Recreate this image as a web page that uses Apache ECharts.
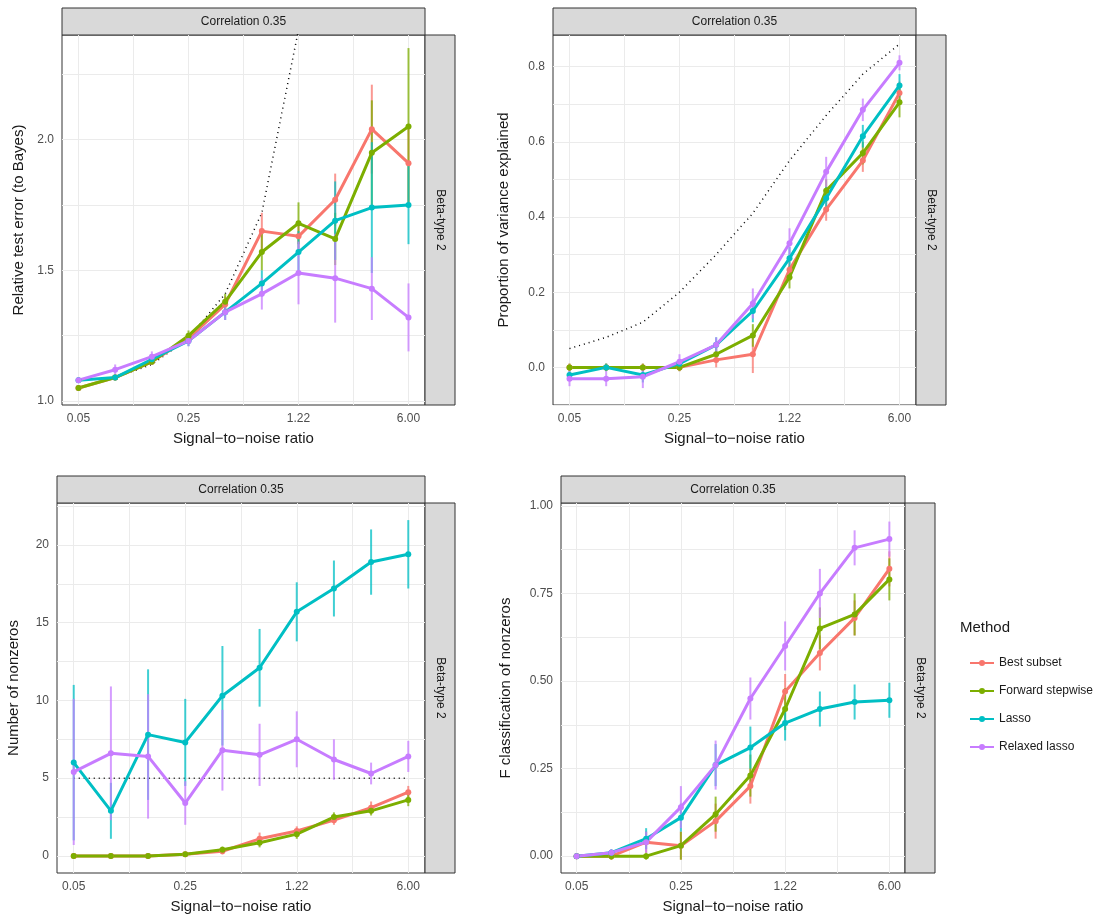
<!DOCTYPE html>
<html><head><meta charset="utf-8">
<script src="https://cdn.jsdelivr.net/npm/echarts@6/dist/echarts.min.js"></script>
<style>html,body{margin:0;background:#fff}#c{width:1111px;height:917px}</style>
</head><body><div id="c"></div>
<script>
var snrLabels = ['0.05','0.09','0.14','0.25','0.42','0.71','1.22','2.07','3.52','6.00'];
var methods = ['Best subset','Forward stepwise','Lasso','Relaxed lasso'];
var colors = ['#F8766D','#7CAE00','#00BFC4','#C77CFF'];

// panel 1: relative test error
var rteBest = [1.05,1.09,1.15,1.24,1.37,1.65,1.63,1.77,2.04,1.91];
var rteFwd = [1.05,1.09,1.15,1.25,1.38,1.57,1.68,1.62,1.95,2.05];
var rteLasso = [1.08,1.09,1.16,1.23,1.34,1.45,1.57,1.69,1.74,1.75];
var rteRelax = [1.08,1.12,1.17,1.23,1.34,1.41,1.49,1.47,1.43,1.32];
var rteBestErr = [0.01,0.01,0.01,0.02,0.03,0.07,0.05,0.1,0.17,0.15];
var rteFwdErr = [0.01,0.01,0.01,0.02,0.03,0.07,0.08,0.1,0.2,0.3];
var rteLassoErr = [0.01,0.01,0.02,0.02,0.03,0.05,0.08,0.15,0.25,0.15];
var rteRelaxErr = [0.01,0.02,0.02,0.02,0.03,0.06,0.12,0.17,0.12,0.13];
var rteBayes = [1.05,1.09,1.14,1.24,1.41,1.72,2.42,3.5,5.3,8.5];

// panel 2: proportion of variance explained
var pveBest = [0.0,0.0,0.0,0.0,0.02,0.035,0.26,0.42,0.55,0.73];
var pveFwd = [0.0,0.0,0.0,0.0,0.035,0.085,0.24,0.47,0.57,0.705];
var pveLasso = [-0.02,0.0,-0.02,0.01,0.06,0.15,0.29,0.45,0.615,0.75];
var pveRelax = [-0.03,-0.03,-0.025,0.015,0.06,0.17,0.33,0.52,0.685,0.81];
var pveBestErr = [0.01,0.01,0.01,0.01,0.02,0.05,0.03,0.03,0.03,0.03];
var pveFwdErr = [0.01,0.01,0.01,0.01,0.02,0.03,0.03,0.03,0.03,0.04];
var pveLassoErr = [0.01,0.01,0.02,0.01,0.02,0.03,0.03,0.03,0.03,0.03];
var pveRelaxErr = [0.02,0.02,0.03,0.02,0.02,0.04,0.04,0.04,0.03,0.02];
var pveBayes = [0.05,0.08,0.12,0.2,0.30,0.41,0.55,0.67,0.78,0.86];

// panel 3: number of nonzeros
var nnzBest = [0,0,0,0.1,0.3,1.1,1.6,2.3,3.1,4.1];
var nnzFwd = [0,0,0,0.1,0.4,0.85,1.4,2.5,2.9,3.6];
var nnzLasso = [6.0,2.9,7.8,7.3,10.3,12.1,15.7,17.2,18.9,19.4];
var nnzRelax = [5.4,6.6,6.4,3.4,6.8,6.5,7.5,6.2,5.3,6.4];
var nnzBestErr = [0.05,0.05,0.05,0.1,0.2,0.4,0.3,0.3,0.4,0.4];
var nnzFwdErr = [0.05,0.05,0.05,0.1,0.2,0.3,0.3,0.3,0.3,0.4];
var nnzLassoErr = [5,1.8,4.2,2.8,3.2,2.5,1.9,1.8,2.1,2.2];
var nnzRelaxErr = [4.7,4.3,4,1.4,2.6,2,1.8,1.3,0.7,1];
var nnzTrue = [5,5,5,5,5,5,5,5,5,5];

// panel 4: F classification of nonzeros
var fBest = [0,0,0.04,0.03,0.1,0.2,0.47,0.58,0.68,0.82];
var fFwd = [0,0,0,0.03,0.12,0.23,0.42,0.65,0.69,0.79];
var fLasso = [0,0.01,0.05,0.11,0.26,0.31,0.38,0.42,0.44,0.445];
var fRelax = [0,0.01,0.04,0.14,0.26,0.45,0.60,0.75,0.88,0.905];
var fBestErr = [0.005,0.01,0.03,0.04,0.05,0.05,0.05,0.05,0.05,0.05];
var fFwdErr = [0.005,0.01,0.01,0.04,0.05,0.06,0.06,0.06,0.06,0.06];
var fLassoErr = [0.005,0.01,0.03,0.04,0.06,0.06,0.05,0.05,0.05,0.05];
var fRelaxErr = [0.005,0.01,0.03,0.06,0.07,0.06,0.07,0.07,0.05,0.05];

var panels = [
  {name:'Relative test error (to Bayes)', ys:[rteBest,rteFwd,rteLasso,rteRelax], es:[rteBestErr,rteFwdErr,rteLassoErr,rteRelaxErr], ref:rteBayes,
   min:0.985, max:2.40, major:[1.0,1.5,2.0], minor:[1.25,1.75,2.25], fmt:function(v){return v.toFixed(1);},
   box:{left:62,top:35,width:363,height:370}},
  {name:'Proportion of variance explained', ys:[pveBest,pveFwd,pveLasso,pveRelax], es:[pveBestErr,pveFwdErr,pveLassoErr,pveRelaxErr], ref:pveBayes,
   min:-0.1, max:0.884, major:[0,0.2,0.4,0.6,0.8], minor:[-0.1,0.1,0.3,0.5,0.7], fmt:function(v){return v.toFixed(1);},
   box:{left:553,top:35,width:363,height:370}},
  {name:'Number of nonzeros', ys:[nnzBest,nnzFwd,nnzLasso,nnzRelax], es:[nnzBestErr,nnzFwdErr,nnzLassoErr,nnzRelaxErr], ref:nnzTrue,
   min:-1.1, max:22.7, major:[0,5,10,15,20], minor:[2.5,7.5,12.5,17.5,22.5], fmt:function(v){return String(v);},
   box:{left:57,top:503,width:368,height:370}},
  {name:'F classification of nonzeros', ys:[fBest,fFwd,fLasso,fRelax], es:[fBestErr,fFwdErr,fLassoErr,fRelaxErr], ref:null,
   min:-0.048, max:1.008, major:[0,0.25,0.5,0.75,1.0], minor:[0.125,0.375,0.625,0.875], fmt:function(v){return v.toFixed(2);},
   box:{left:561,top:503,width:344,height:370}}
];

var xMajor = [0,3,6,9], xMinor = [1.5,4.5,7.5];
var grids = [], xAxes = [], yAxes = [], series = [], graphics = [];
var txt = '#1a1a1a';

panels.forEach(function (p, k) {
  grids.push({left:p.box.left, top:p.box.top, width:p.box.width, height:p.box.height,
    show:true, borderColor:'#333', borderWidth:1, backgroundColor:'#fff'});
  xAxes.push({gridIndex:k, type:'value', min:-0.45, max:9.45,
    name:'Signal\u2212to\u2212noise ratio', nameLocation:'middle', nameGap:26,
    nameTextStyle:{fontSize:15, color:txt, fontFamily:'Liberation Sans'},
    axisLine:{show:false},
    axisTick:{show:false, customValues:xMajor.concat(xMinor).sort()},
    axisLabel:{customValues:xMajor, color:'#4d4d4d', fontSize:12, margin:8, formatter:function(v){return snrLabels[Math.round(v)];}},
    splitLine:{show:true, lineStyle:{color:'#ebebeb', width:1}}});
  yAxes.push({gridIndex:k, type:'value', min:p.min, max:p.max,
    name:p.name, nameLocation:'middle', nameGap:k==3?48:(k==1?42:36), nameRotate:90,
    nameTextStyle:{fontSize:15, color:txt, fontFamily:'Liberation Sans'},
    axisLine:{show:false},
    axisTick:{show:false, customValues:p.major.concat(p.minor).sort(function(a,b){return a-b;})},
    axisLabel:{customValues:p.major, color:'#4d4d4d', fontSize:12, margin:8, formatter:p.fmt},
    splitLine:{show:true, lineStyle:{color:'#ebebeb', width:1}}});

  if (p.ref) {
    series.push({type:'line', xAxisIndex:k, yAxisIndex:k, symbol:'none', clip:true, z:1,
      lineStyle:{color:'#000', width:1.5, type:[1,4]},
      data:p.ref.map(function(v,i){return [i,v];})});
  }
  p.ys.forEach(function (ys, m) {
    var es = p.es[m];
    series.push({type:'custom', xAxisIndex:k, yAxisIndex:k, z:2, clip:true,
      data:ys.map(function(v,i){return [i, v-es[i], v+es[i]];}),
      renderItem:function(params, api){
        var a = api.coord([api.value(0), api.value(1)]);
        var b = api.coord([api.value(0), api.value(2)]);
        return {type:'line', shape:{x1:a[0],y1:a[1],x2:b[0],y2:b[1]},
          style:{stroke:colors[m], lineWidth:2, opacity:0.75}};
      }});
    series.push({type:'line', name:methods[m], xAxisIndex:k, yAxisIndex:k, z:3,
      symbol:'circle', symbolSize:6, color:colors[m],
      lineStyle:{width:3, color:colors[m]}, itemStyle:{color:colors[m]},
      data:ys.map(function(v,i){return [i,v];})});
  });

  // strips
  var b = p.box;
  graphics.push({type:'rect', shape:{x:b.left, y:b.top-27, width:b.width, height:27},
    style:{fill:'#d9d9d9', stroke:'#333', lineWidth:1}});
  graphics.push({type:'text', x:b.left+b.width/2, y:b.top-13.5,
    style:{text:'Correlation 0.35', fill:txt, fontSize:12, align:'center', verticalAlign:'middle', fontFamily:'Liberation Sans'}});
  graphics.push({type:'rect', shape:{x:b.left+b.width, y:b.top, width:30, height:b.height},
    style:{fill:'#d9d9d9', stroke:'#333', lineWidth:1}});
  graphics.push({type:'text', x:b.left+b.width+15, y:b.top+b.height/2, rotation:-Math.PI/2,
    style:{text:'Beta-type 2', fill:txt, fontSize:12, align:'center', verticalAlign:'middle', fontFamily:'Liberation Sans'}});
});

graphics.push({type:'text', x:960, y:628, style:{text:'Method', fill:txt, fontSize:15, verticalAlign:'middle', fontFamily:'Liberation Sans'}});

var chart = echarts.init(document.getElementById('c'));
chart.setOption({
  animation:false,
  textStyle:{fontFamily:'Liberation Sans'},
  grid:grids, xAxis:xAxes, yAxis:yAxes, series:series, graphic:graphics,
  legend:{data:methods, orient:'vertical', left:965, top:652, itemWidth:24, itemHeight:8, itemGap:16,
    icon:'path://M0,3L24,3L24,5L0,5Z M9,4A3,3 0 1 1 15,4A3,3 0 1 1 9,4Z',
    textStyle:{fontSize:12, color:txt}}
});
</script></body></html>
